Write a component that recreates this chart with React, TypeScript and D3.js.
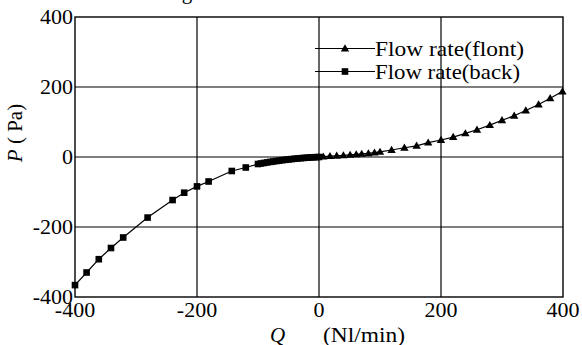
import React from "react";
import * as d3 from "d3";

const xTicks = [-400, -200, 0, 200, 400];
const yTicks = [-400, -200, 0, 200, 400];

const backQ = [-400, -381, -361, -341, -321, -281, -240, -221, -200, -181, -143, -120, -100, -95, -90, -85, -80, -75, -70, -65, -60, -55, -50, -45, -40, -35, -30, -25, -20, -15, -10, -5, 0];
const backP = [-366, -330, -292, -260, -230, -173, -123, -102, -84, -70, -40, -30, -20, -18.5, -17, -15.5, -14, -12.8, -11.5, -10.3, -9, -8, -7, -6, -5, -4.2, -3.4, -2.7, -2, -1.4, -0.9, -0.4, 0];

const frontQ = [7, 18, 29, 40, 51, 61, 70, 81, 91, 100, 119, 140, 160, 179, 200, 220, 240, 259, 280, 300, 320, 339, 360, 379, 399];
const frontP = [1, 2.5, 3.5, 4.5, 6, 7.5, 9, 10.5, 12.5, 14.5, 20, 26.5, 32, 41, 48.6, 57, 67.6, 78, 91, 105, 118, 133, 150, 168, 187];

const seriesNames = ["Flow rate(flont)", "Flow rate(back)"];

const W = 582, H = 345;
const left = 75, right = 563, top = 17, bottom = 297;
const font = '"Liberation Serif", "Times New Roman", "DejaVu Serif", serif';

function Square({ x, y }: { x: number; y: number }) {
  return <rect x={x - 3.3} y={y - 3.3} width={6.6} height={6.6} fill="#000" />;
}
function Tri({ x, y }: { x: number; y: number }) {
  const s = 4.2;
  return <path d={`M${x},${y - s}L${x + s},${y + s * 0.7}L${x - s},${y + s * 0.7}Z`} fill="#000" />;
}

export default function App() {
  const x = d3.scaleLinear().domain([-400, 400]).range([left, right]);
  const y = d3.scaleLinear().domain([-400, 400]).range([bottom, top]);
  const line = d3.line<[number, number]>().x((d) => x(d[0])).y((d) => y(d[1]));
  const back: [number, number][] = backQ.map((q, i) => [q, backP[i]]);
  const front: [number, number][] = frontQ.map((q, i) => [q, frontP[i]]);
  const allLine: [number, number][] = [...back, ...front];
  const ts = { fontFamily: font };
  const legendLens = [149, 145];

  return (
    <svg width={W} height={H} style={{ position: "absolute", left: 0, top: 0, background: "#fff", fontFamily: font }}>
      <rect x={0} y={0} width={W} height={H} fill="#fff" />
      <text x={187} y={-1} fontSize={21} textAnchor="middle" style={ts}>g</text>
      {xTicks.slice(1, -1).map((t) => (
        <line key={"gx" + t} x1={x(t)} x2={x(t)} y1={top} y2={bottom} stroke="#000" strokeWidth={1.2} />
      ))}
      {yTicks.slice(1, -1).map((t) => (
        <line key={"gy" + t} x1={left} x2={right} y1={y(t)} y2={y(t)} stroke="#000" strokeWidth={1.2} />
      ))}
      <rect x={left} y={top} width={right - left} height={bottom - top} fill="none" stroke="#000" strokeWidth={1.4} />
      <path d={line(allLine) || ""} fill="none" stroke="#000" strokeWidth={1.2} />
      {back.map((d, i) => <Square key={"b" + i} x={x(d[0])} y={y(d[1])} />)}
      {front.map((d, i) => <Tri key={"f" + i} x={x(d[0])} y={y(d[1])} />)}
      {yTicks.map((t) => (
        <text key={"yt" + t} x={left - 2} y={y(t) + 7} fontSize={22} textAnchor="end" style={ts}>{t}</text>
      ))}
      {xTicks.map((t) => (
        <text key={"xt" + t} x={x(t)} y={bottom + 20} fontSize={22} textAnchor="middle" style={ts}>{t}</text>
      ))}
      <text x={270} y={342} fontSize={21} fontStyle="italic" style={ts}>Q</text>
      <text x={323} y={342} fontSize={21} textLength={82} lengthAdjust="spacingAndGlyphs" style={ts}>(Nl/min)</text>
      <text transform={`translate(22,133) rotate(-90)`} fontSize={21} textAnchor="middle" style={ts}>
        <tspan fontStyle="italic">P</tspan><tspan> ( Pa)</tspan>
      </text>
      {seriesNames.map((n, i) => {
        const ly = 48.5 + i * 23;
        return (
          <g key={n}>
            <line x1={315} x2={375} y1={ly} y2={ly} stroke="#000" strokeWidth={1.2} />
            {i === 0 ? <Tri x={345} y={ly} /> : <Square x={345} y={ly} />}
            <text x={375} y={ly + 7} fontSize={21} textLength={legendLens[i]} lengthAdjust="spacingAndGlyphs" style={ts}>{n}</text>
          </g>
        );
      })}
    </svg>
  );
}
